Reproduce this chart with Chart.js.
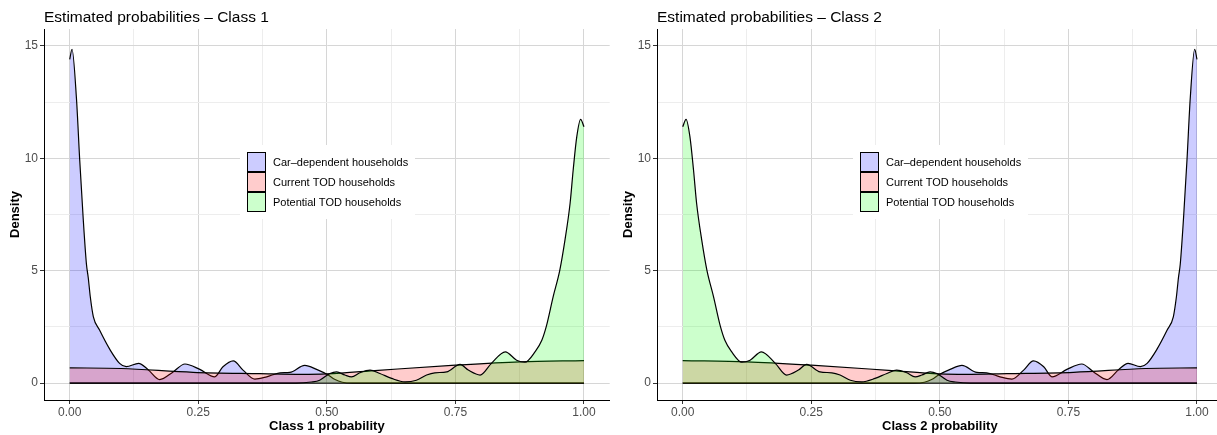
<!DOCTYPE html>
<html>
<head>
<meta charset="utf-8">
<script src="https://cdn.jsdelivr.net/npm/chart.js@4.4.1/dist/chart.umd.min.js"></script>
<style>
  html, body { margin: 0; padding: 0; background: #fff; overflow: hidden; width: 1217px; height: 435px; }
  #wrap { position: relative; width: 1217px; height: 435px; overflow: hidden; }
  canvas { position: absolute; top: 0; }
  #c1 { left: 0; }
  #c2 { left: 613px; }
</style>
</head>
<body>
<div id="wrap">
  <canvas id="c1" width="612" height="435"></canvas>
  <canvas id="c2" width="612" height="435"></canvas>
</div>
<script>
// ---------- data ----------
const legendLabels = ["Car–dependent households", "Current TOD households", "Potential TOD households"];
const fillColors = ["rgba(0,0,255,0.2)", "rgba(255,0,0,0.2)", "rgba(0,255,0,0.2)"];

const xTicks = [0, 0.125, 0.25, 0.375, 0.5, 0.625, 0.75, 0.875, 1];
const xTickLabels = { 0: "0.00", 0.25: "0.25", 0.5: "0.50", 0.75: "0.75", 1: "1.00" };
const yTicks = [0, 2.5, 5, 7.5, 10, 12.5, 15];
const yTickLabels = { 0: "0", 5: "5", 10: "10", 15: "15" };

const baseX = [0, 1];
const baseY = [0, 0];

// Class 1 panel
const carX1 = [0, 0.0045, 0.013, 0.0195, 0.026, 0.0325, 0.036, 0.04, 0.046, 0.058, 0.078, 0.097, 0.11, 0.134, 0.152, 0.175, 0.201, 0.224, 0.253, 0.282, 0.298, 0.318, 0.337, 0.36, 0.383, 0.409, 0.428, 0.457, 0.48, 0.5025, 0.515, 0.53, 0.55, 1];
const carY1 = [14.4, 14.85, 12.7, 9.9, 7.4, 5.3, 4.7, 3.84, 2.95, 2.36, 1.5, 0.88, 0.73, 0.88, 0.61, 0.16, 0.5, 0.85, 0.61, 0.28, 0.73, 0.99, 0.58, 0.18, 0.28, 0.46, 0.48, 0.79, 0.61, 0.36, 0.17, 0.04, 0, 0];
const curX1 = [0, 0.1, 0.24, 0.37, 0.45, 0.5, 0.6, 0.75, 0.875, 1];
const curY1 = [0.68, 0.65, 0.48, 0.42, 0.39, 0.41, 0.57, 0.8, 0.95, 1.0];
const potX1 = [0, 0.44, 0.47, 0.486, 0.506, 0.519, 0.535, 0.548, 0.564, 0.584, 0.603, 0.626, 0.652, 0.674, 0.694, 0.71, 0.733, 0.759, 0.775, 0.798, 0.82, 0.847, 0.869, 0.885, 0.905, 0.918, 0.927, 0.94, 0.953, 0.963, 0.973, 0.979, 0.986, 0.9935, 1];
const potY1 = [0, 0, 0.05, 0.13, 0.43, 0.5, 0.36, 0.28, 0.46, 0.58, 0.43, 0.21, 0.06, 0.13, 0.36, 0.46, 0.5, 0.83, 0.58, 0.36, 0.88, 1.39, 1.02, 0.93, 1.4, 1.91, 2.55, 3.84, 5.03, 6.36, 8.0, 9.48, 10.96, 11.73, 11.4];

// Class 2 panel
const carX2 = [0, 0.45, 0.47, 0.485, 0.4975, 0.52, 0.543, 0.572, 0.591, 0.617, 0.64, 0.663, 0.682, 0.702, 0.718, 0.747, 0.776, 0.799, 0.825, 0.848, 0.866, 0.89, 0.903, 0.922, 0.942, 0.954, 0.96, 0.964, 0.9675, 0.974, 0.9805, 0.987, 0.9955, 1];
const carY2 = [0, 0, 0.04, 0.17, 0.36, 0.61, 0.79, 0.48, 0.46, 0.28, 0.18, 0.58, 0.99, 0.73, 0.28, 0.61, 0.85, 0.5, 0.16, 0.61, 0.88, 0.73, 0.88, 1.5, 2.36, 2.95, 3.84, 4.7, 5.3, 7.4, 9.9, 12.7, 14.85, 14.4];
const curX2 = [0, 0.125, 0.25, 0.4, 0.5, 0.55, 0.63, 0.76, 0.9, 1];
const curY2 = [1.0, 0.95, 0.8, 0.57, 0.41, 0.39, 0.42, 0.48, 0.65, 0.68];
const potX2 = [0, 0.0065, 0.014, 0.021, 0.027, 0.037, 0.047, 0.06, 0.073, 0.082, 0.095, 0.115, 0.131, 0.153, 0.18, 0.202, 0.225, 0.241, 0.267, 0.29, 0.306, 0.326, 0.348, 0.374, 0.397, 0.416, 0.436, 0.452, 0.465, 0.481, 0.494, 0.514, 0.53, 0.56, 1];
const potY2 = [11.4, 11.73, 10.96, 9.48, 8.0, 6.36, 5.03, 3.84, 2.55, 1.91, 1.4, 0.93, 1.02, 1.39, 0.88, 0.36, 0.58, 0.83, 0.5, 0.46, 0.36, 0.13, 0.06, 0.21, 0.43, 0.58, 0.46, 0.28, 0.36, 0.5, 0.43, 0.13, 0.05, 0, 0];

// ---------- helpers ----------
const FONT = '"Liberation Sans", Arial, Helvetica, sans-serif';

function toPoints(xs, ys) {
  return xs.map((x, i) => ({ x: x, y: ys[i] }));
}

function densitySet(label, xs, ys, color, order) {
  return {
    label: label,
    data: toPoints(xs, ys),
    backgroundColor: color,
    borderColor: "#000",
    borderWidth: 1.2,
    fill: "origin",
    pointRadius: 0,
    cubicInterpolationMode: "monotone",
    order: order
  };
}

// title + legend drawn on top of the panel
const panelDecor = {
  id: "panelDecor",
  afterDraw(chart, args, opts) {
    const ctx = chart.ctx, a = chart.chartArea;
    ctx.save();
    ctx.font = "15.5px " + FONT;
    ctx.fillStyle = "#000";
    ctx.textAlign = "left";
    ctx.textBaseline = "alphabetic";
    ctx.fillText(opts.title, a.left, 22);

    const bx = a.left + 196, by = a.top + 116;
    ctx.fillStyle = "#fff";
    ctx.fillRect(bx, by, 175, 74);
    legendLabels.forEach((lab, i) => {
      const kx = bx + 7, ky = by + 7 + i * 20;
      ctx.fillStyle = fillColors[i];
      ctx.fillRect(kx, ky, 19, 20);
      ctx.strokeStyle = "#000";
      ctx.lineWidth = 1;
      ctx.strokeRect(kx + 0.5, ky + 0.5, 18, 19);
      ctx.fillStyle = "#000";
      ctx.font = "11px " + FONT;
      ctx.textBaseline = "middle";
      ctx.fillText(lab, kx + 26, ky + 10.5);
    });
    ctx.restore();
  }
};

function makeChart(canvasId, title, xTitle, car, cur, pot) {
  return new Chart(document.getElementById(canvasId), {
    type: "line",
    data: {
      datasets: [
        densitySet(legendLabels[0], car[0], car[1], fillColors[0], 3),
        densitySet(legendLabels[1], cur[0], cur[1], fillColors[1], 2),
        densitySet(legendLabels[2], pot[0], pot[1], fillColors[2], 1),
        { label: "base", data: toPoints(baseX, baseY), borderColor: "#000", borderWidth: 1.2,
          fill: false, pointRadius: 0, order: 4 }
      ]
    },
    options: {
      responsive: false,
      animation: false,
      layout: { padding: { left: 0, right: 2.3, top: 29, bottom: 0 } },
      plugins: {
        legend: { display: false },
        tooltip: { enabled: false },
        panelDecor: { title: title }
      },
      scales: {
        x: {
          type: "linear",
          min: -0.05,
          max: 1.05,
          afterBuildTicks: s => { s.ticks = xTicks.map(v => ({ value: v })); },
          afterFit: s => { s.height = 35; },
          ticks: {
            autoSkip: false,
            maxRotation: 0,
            padding: 1,
            color: "#4D4D4D",
            font: { family: FONT, size: 12 },
            callback: v => xTickLabels[v] || ""
          },
          grid: {
            color: c => (c.tick && xTickLabels[c.tick.value] !== undefined) ? "#D6D6D6" : "#EDEDED",
            tickColor: c => (c.tick && xTickLabels[c.tick.value] !== undefined) ? "#333" : "rgba(0,0,0,0)",
            tickLength: 4,
            lineWidth: 1
          },
          border: { color: "#000", width: 1 },
          title: {
            display: true,
            text: xTitle,
            color: "#000",
            font: { family: FONT, size: 13, weight: "bold" },
            padding: { top: 0, bottom: 1 }
          }
        },
        y: {
          type: "linear",
          min: -0.75,
          max: 15.75,
          afterBuildTicks: s => { s.ticks = yTicks.map(v => ({ value: v })); },
          afterFit: s => { s.width = 44; },
          ticks: {
            autoSkip: false,
            padding: 2,
            color: "#4D4D4D",
            font: { family: FONT, size: 12 },
            callback: v => yTickLabels[v] || ""
          },
          grid: {
            color: c => (c.tick && yTickLabels[c.tick.value] !== undefined) ? "#D6D6D6" : "#EDEDED",
            tickColor: c => (c.tick && yTickLabels[c.tick.value] !== undefined) ? "#333" : "rgba(0,0,0,0)",
            tickLength: 4,
            lineWidth: 1
          },
          border: { color: "#000", width: 1 },
          title: {
            display: true,
            text: "Density",
            color: "#000",
            font: { family: FONT, size: 13, weight: "bold" },
            padding: { top: 7.5, bottom: 0 }
          }
        }
      }
    },
    plugins: [panelDecor]
  });
}

makeChart("c1", "Estimated probabilities – Class 1", "Class 1 probability",
  [carX1, carY1], [curX1, curY1], [potX1, potY1]);
makeChart("c2", "Estimated probabilities – Class 2", "Class 2 probability",
  [carX2, carY2], [curX2, curY2], [potX2, potY2]);
</script>
</body>
</html>
